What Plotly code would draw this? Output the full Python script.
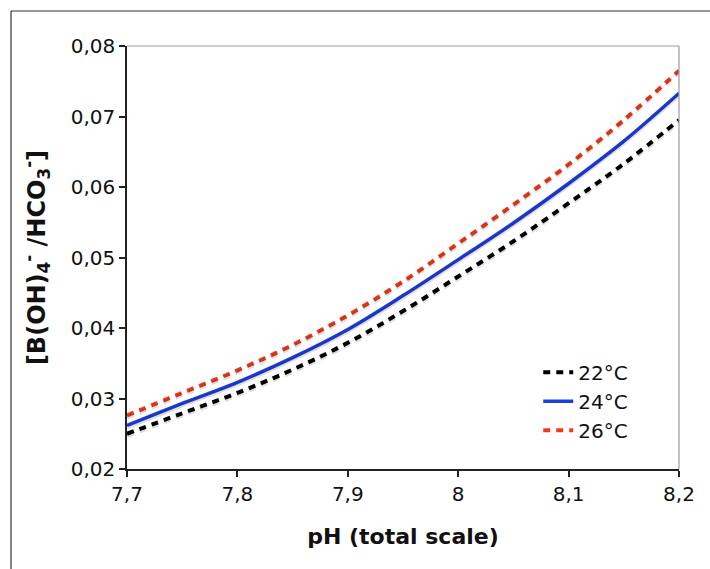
import plotly.graph_objects as go

# ---- data ----
ph = [7.70, 7.75, 7.80, 7.85, 7.90, 7.95, 8.00, 8.05, 8.10, 8.15, 8.20]
ratio_22 = [0.0250, 0.0279, 0.0308, 0.0341, 0.0379, 0.0424, 0.0473, 0.0523, 0.0577, 0.0633, 0.0695]
ratio_24 = [0.0262, 0.0293, 0.0323, 0.0358, 0.0398, 0.0446, 0.0497, 0.0549, 0.0605, 0.0665, 0.0733]
ratio_26 = [0.0276, 0.0308, 0.0340, 0.0376, 0.0418, 0.0466, 0.0520, 0.0575, 0.0632, 0.0695, 0.0765]
series_names = ["22°C", "24°C", "26°C"]

x_tickvals = [7.7, 7.8, 7.9, 8.0, 8.1, 8.2]
x_ticktext = ["7,7", "7,8", "7,9", "8", "8,1", "8,2"]
y_tickvals = [0.02, 0.03, 0.04, 0.05, 0.06, 0.07, 0.08]
y_ticktext = ["0,02", "0,03", "0,04", "0,05", "0,06", "0,07", "0,08"]

FONT = "DejaVu Sans"
W, H = 710, 569
ML, MR, MT, MB = 127, 31, 46, 100
PW, PH = W - ML - MR, H - MT - MB
XR = [7.7, 8.2]
YR = [0.02, 0.08]

styles = [
    dict(color="#000000", dash="7px,6px", width=4),
    dict(color="#1e3ee0", dash="solid", width=3.5),
    dict(color="#f03c1e", dash="7px,6px", width=4),
]
data_sets = [ratio_22, ratio_24, ratio_26]

fig = go.Figure()

# soft shadows (drawn on an overlay axis shifted a couple of pixels right/down)
for ys, st in zip(data_sets, styles):
    fig.add_trace(go.Scatter(
        x=ph, y=ys, mode="lines", xaxis="x2", yaxis="y2",
        line=dict(color="rgba(0,0,0,0.13)", width=st["width"] + 1,
                  dash=st["dash"], shape="spline"),
        showlegend=False, hoverinfo="skip"))

for ys, st, name in zip(data_sets, styles, series_names):
    fig.add_trace(go.Scatter(
        x=ph, y=ys, mode="lines", name=name,
        line=dict(color=st["color"], width=st["width"], dash=st["dash"], shape="spline")))

dx = 1.5 / PW
dy = 2.0 / PH
xspan = XR[1] - XR[0]
yspan = YR[1] - YR[0]

axis_common = dict(showgrid=False, zeroline=False)
fig.update_layout(
    width=W, height=H,
    margin=dict(l=ML, r=MR, t=MT, b=MB),
    paper_bgcolor="white", plot_bgcolor="white",
    font=dict(family=FONT, color="#111111", size=20),
    xaxis=dict(range=XR, tickvals=x_tickvals, ticktext=x_ticktext,
               ticks="outside", ticklen=6, tickwidth=1.5, tickcolor="#222",
               showline=True, linecolor="#222", linewidth=1.5,
               tickfont=dict(size=20),
               title=dict(text="<b>pH (total scale)</b>", font=dict(size=22), standoff=24),
               **axis_common),
    yaxis=dict(range=YR, tickvals=y_tickvals, ticktext=y_ticktext,
               ticks="outside", ticklen=6, tickwidth=1.5, tickcolor="#222",
               showline=True, linecolor="#222", linewidth=1.5,
               tickfont=dict(size=20),
               title=dict(text="<b>[B(OH)<sub>4</sub><sup>-</sup> /HCO<sub>3</sub><sup>-</sup>]</b>",
                          font=dict(size=24), standoff=18),
               **axis_common),
    xaxis2=dict(range=[XR[0], XR[0] + xspan * (1 - dx)], domain=[dx, 1],
                overlaying="x", anchor="y2", visible=False, **axis_common),
    yaxis2=dict(range=[YR[0] + yspan * dy, YR[1]], domain=[0, 1 - dy],
                overlaying="y", anchor="x2", visible=False, **axis_common),
    legend=dict(x=0.745, y=0.275, xanchor="left", yanchor="top",
                bgcolor="rgba(0,0,0,0)", font=dict(size=20, family=FONT)),
    shapes=[
        # grey top and right edges of the plot area
        dict(type="line", xref="paper", yref="paper", x0=0, x1=1, y0=1, y1=1,
             line=dict(color="#9a9a9a", width=1.2)),
        dict(type="line", xref="paper", yref="paper", x0=1, x1=1, y0=0, y1=1,
             line=dict(color="#9a9a9a", width=1.2)),
        # outer chart frame (left and top visible)
        dict(type="line", xref="paper", yref="paper",
             x0=(11 - ML) / PW, x1=(11 - ML) / PW, y0=-0.4, y1=(H - MB - 11) / PH,
             line=dict(color="#333333", width=1.2)),
        dict(type="line", xref="paper", yref="paper",
             x0=(11 - ML) / PW, x1=1.2, y0=(H - MB - 11) / PH, y1=(H - MB - 11) / PH,
             line=dict(color="#333333", width=1.2)),
    ],
)

fig.write_html("out.html")
